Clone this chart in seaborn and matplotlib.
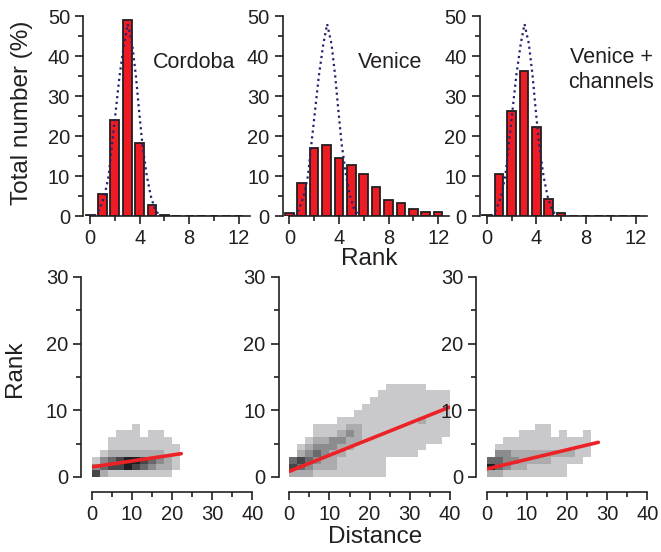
import pandas as pd
import seaborn as sns
from matplotlib import pyplot as plt
from matplotlib.colors import ListedColormap
from matplotlib.ticker import MultipleLocator

# rank histograms (%), one bar per rank 0..12
ranks = list(range(13))
cordoba_pct = [0.3, 5.5, 24.0, 49.0, 18.3, 2.7, 0.3, 0.1, 0, 0, 0, 0, 0]
venice_pct = [0.8, 8.3, 17.0, 17.8, 14.5, 12.7, 10.4, 7.2, 4.0, 3.2, 1.8, 1.1, 1.0]
channels_pct = [0.2, 10.4, 26.2, 36.2, 22.2, 4.3, 0.7, 0.1, 0, 0, 0, 0, 0]

# dotted reference curve
curve_x = [0.35, 0.75, 1.15, 1.5, 1.78, 2.1, 2.38, 2.74, 3.05, 3.4, 3.7, 3.95, 4.22, 4.58, 4.9, 5.2, 5.5]
curve_y = [0, 1.5, 4.8, 10, 18, 27, 35, 43, 48, 43, 35, 26.5, 18, 10, 5, 2, 0.5]

# rank vs distance density, shade level per cell (distance bins of 2, rank bins of 1),
# top row = highest rank, '.' = empty
cordoba_cells = [
    ".....1..............",
    "...111.11...........",
    "..11111111..........",
    "..111111111.........",
    ".1222222211.........",
    "13456654321.........",
    "34556543221.........",
    "5211111111..........",
]
venice_cells = [
    "............11111...",
    "...........111111111",
    "..........1111111111",
    ".........11111111111",
    "........111111111111",
    "......11111111112111",
    "...11112211111111111",
    "...11123211111111111",
    "..12233221111111111.",
    ".1233322111111111...",
    ".234322111111111....",
    "454322111111........",
    "543222111111........",
    "222111111111........",
]
channels_cells = [
    "......11............",
    "....1111.1..1.......",
    "..11111111111.......",
    ".111111111111.......",
    ".332222222211.......",
    "443322221111........",
    "6432211111..........",
    "2211111111..........",
]

# fitted lines (distance, rank) end points
cordoba_fit = ([0, 22.3], [1.5, 3.5])
venice_fit = ([0, 40], [0.85, 10.5])
channels_fit = ([0, 27.8], [1.2, 5.2])

names = ["Cordoba", "Venice", "Venice +\nchannels"]


def cells_frame(rows):
    recs = []
    n = len(rows)
    for i, row in enumerate(rows):
        for j, ch in enumerate(row):
            if ch != ".":
                recs.append({"dist": 2 * j + 1, "rank": n - 1 - i + 0.5, "w": int(ch)})
    return pd.DataFrame(recs)


sns.set_theme(style="ticks")
plt.rcParams["font.family"] = ["Liberation Sans", "DejaVu Sans"]
ink = "#231f20"
plt.rcParams.update({
    "axes.edgecolor": ink, "axes.linewidth": 1.2,
    "xtick.color": ink, "ytick.color": ink,
    "xtick.labelcolor": ink, "ytick.labelcolor": ink,
    "xtick.major.width": 1.2, "ytick.major.width": 1.2,
    "xtick.minor.width": 1.2, "ytick.minor.width": 1.2,
    "xtick.major.size": 6, "ytick.major.size": 6,
    "xtick.minor.size": 3.5, "ytick.minor.size": 3.5,
    "xtick.labelsize": 14.5, "ytick.labelsize": 14.5,
})
grays = ListedColormap(["#c9c9cb", "#acacae", "#8c8c8e", "#69696b", "#464648", "#1f1f21"])

W, H = 661, 552
fig = plt.figure(figsize=(W / 100, H / 100), dpi=100)

top_left = [83.2, 282.5, 479.9]
bot_left = [91.7, 289.3, 486.7]
bars = [cordoba_pct, venice_pct, channels_pct]
maps = [cordoba_cells, venice_cells, channels_cells]
fits = [cordoba_fit, venice_fit, channels_fit]

for k in range(3):
    # top row: rank histograms
    ax = fig.add_axes([top_left[k] / W, (H - 216) / H, 166.8 / W, 200 / H])
    sns.barplot(x=ranks, y=bars[k], native_scale=True, width=0.7, color="#ed1c24",
                edgecolor=ink, linewidth=1.3, saturation=1, ax=ax)
    sns.lineplot(x=curve_x, y=curve_y, color="#25236e", lw=1.6, linestyle=(0, (1, 1.6)),
                 ax=ax)
    ax.set_xlim(-0.55, 12.9)
    ax.set_ylim(0, 50)
    ax.xaxis.set_major_locator(MultipleLocator(4))
    ax.xaxis.set_minor_locator(MultipleLocator(2))
    ax.yaxis.set_major_locator(MultipleLocator(10))
    ax.yaxis.set_minor_locator(MultipleLocator(5))
    ax.spines[["top", "right"]].set_visible(False)
    ax.spines["bottom"].set_bounds(0, 12.9)
    ax.set_xlabel("")
    ax.set_ylabel("")

    # bottom row: rank vs distance
    ax2 = fig.add_axes([bot_left[k] / W, (H - 477) / H, 160.6 / W, 200 / H])
    df = cells_frame(maps[k])
    sns.histplot(data=df, x="dist", y="rank", weights="w", binwidth=(2, 1),
                 binrange=((0, 40), (0, len(maps[k]))), cmap=grays,
                 vmin=0.5, vmax=6.5, ax=ax2)
    sns.lineplot(x=fits[k][0], y=fits[k][1], color="#ec2227", lw=2.6, ax=ax2)
    ax2.set_xlim(0, 40)
    ax2.set_ylim(0, 30)
    ax2.xaxis.set_major_locator(MultipleLocator(10))
    ax2.xaxis.set_minor_locator(MultipleLocator(5))
    ax2.yaxis.set_major_locator(MultipleLocator(10))
    ax2.yaxis.set_minor_locator(MultipleLocator(5))
    ax2.spines[["top", "right"]].set_visible(False)
    ax2.spines["left"].set_position(("outward", 7.5))
    ax2.spines["bottom"].set_position(("outward", 11))
    ax2.set_xlabel("")
    ax2.set_ylabel("")

txt = dict(color=ink, ha="center", va="center")
fig.text(194 / W, 1 - 62 / H, names[0], fontsize=15.5, **txt)
fig.text(389.7 / W, 1 - 62 / H, names[1], fontsize=15.5, **txt)
fig.text(611 / W, 1 - 70 / H, names[2], fontsize=15.5, **txt)
fig.text(22 / W, 1 - 113 / H, "Total number (%)", fontsize=17.5, rotation=90, **txt)
fig.text(369 / W, 1 - 259 / H, "Rank", fontsize=17.5, **txt)
fig.text(15 / W, 1 - 369 / H, "Rank", fontsize=17.5, rotation=90, **txt)
fig.text(374.7 / W, 1 - 537 / H, "Distance", fontsize=17.5, **txt)

fig.savefig("out.png", dpi=100)
